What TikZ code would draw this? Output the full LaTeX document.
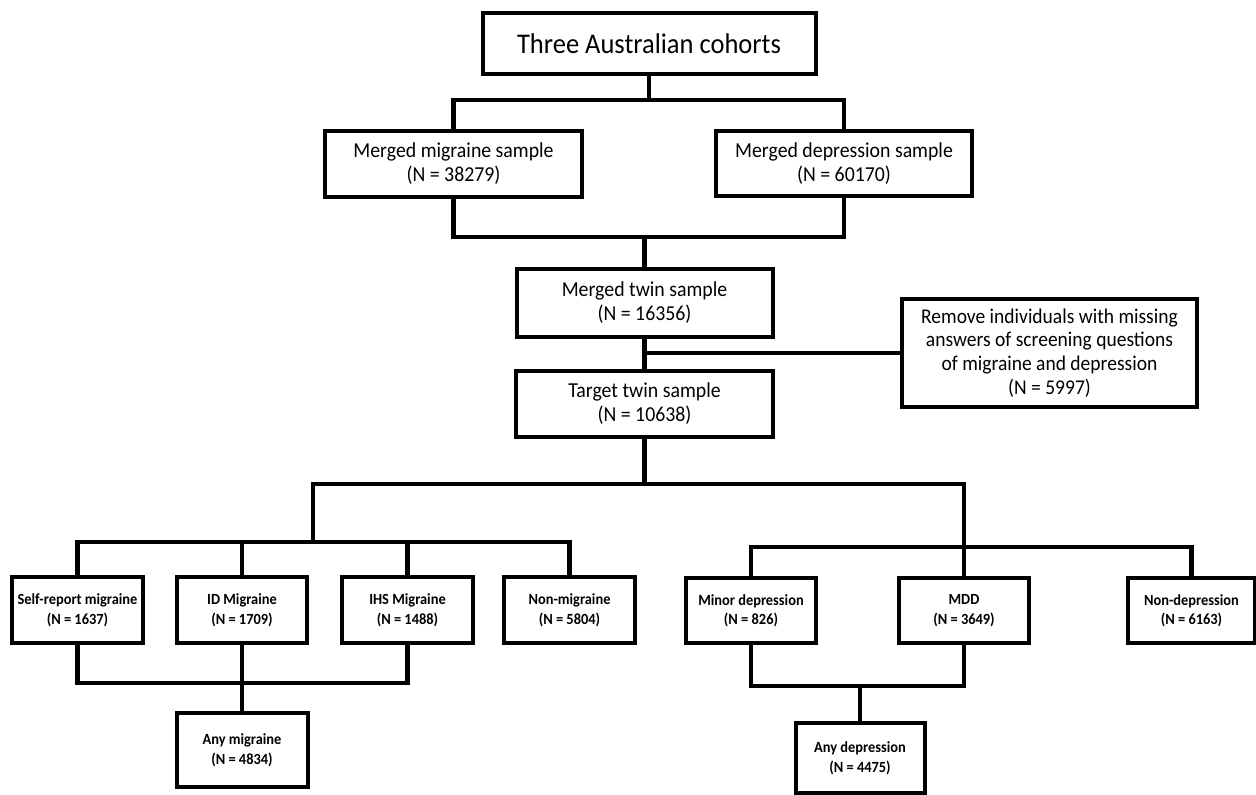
\documentclass[tikz,border=0pt]{standalone}
\usepackage{fontspec}
\setmainfont{Carlito}[FakeStretch=0.93]
\begin{document}
\begin{tikzpicture}[x=1pt,y=-1pt,
  box/.style={draw=black, line width=4pt, align=center, inner sep=0pt, fill=white},
  bigtxt/.style={font=\fontsize{28.5}{33}\selectfont},
  midtxt/.style={font=\fontsize{21.3}{24}\selectfont},
  remtxt/.style={font=\fontsize{21}{23.8}\selectfont},
  smalltxt/.style={font=\bfseries\fontsize{15.5}{19.5}\selectfont},
  link/.style={draw=black, line width=4.5pt, line join=miter}]
\useasboundingbox (0,0) rectangle (1256,795);
\fill[white] (0,0) rectangle (1256,795);

% boxes
\node[box, bigtxt, minimum width=333pt, minimum height=61pt] (top) at (649,43.5) {Three Australian cohorts};
\node[box, midtxt, minimum width=257pt, minimum height=66pt] (mig) at (453.5,164) {Merged migraine sample\\(N = 38279)};
\node[box, midtxt, minimum width=256pt, minimum height=65pt] (dep) at (844,163.5) {Merged depression sample\\(N = 60170)};
\node[box, midtxt, minimum width=256pt, minimum height=68pt] (twin) at (644.5,303) {Merged twin sample\\(N = 16356)};
\node[box, midtxt, minimum width=257pt, minimum height=66pt] (target) at (644.5,404) {Target twin sample\\(N = 10638)};
\node[box, remtxt, minimum width=295pt, minimum height=108pt] (remove) at (1049.5,353) {Remove individuals with missing\\answers of screening questions\\of migraine and depression\\(N = 5997)};

\node[box, smalltxt, minimum width=131pt, minimum height=66pt] (self) at (77.5,610) {Self-report migraine\\(N = 1637)};
\node[box, smalltxt, minimum width=130pt, minimum height=66pt] (id) at (242,610) {ID Migraine\\(N = 1709)};
\node[box, smalltxt, minimum width=131pt, minimum height=66pt] (ihs) at (407.5,610) {IHS Migraine\\(N = 1488)};
\node[box, smalltxt, minimum width=131pt, minimum height=66pt] (nonmig) at (569.5,610) {Non-migraine\\(N = 5804)};
\node[box, smalltxt, minimum width=130pt, minimum height=65pt] (minor) at (751,610.5) {Minor depression\\(N = 826)};
\node[box, smalltxt, minimum width=130pt, minimum height=65pt] (mdd) at (964,610.5) {MDD\\(N = 3649)};
\node[box, smalltxt, minimum width=127pt, minimum height=65pt] (nondep) at (1191.5,610.5) {Non-depression\\(N = 6163)};
\node[box, smalltxt, minimum width=131pt, minimum height=74pt] (anymig) at (242,750) {Any migraine\\(N = 4834)};
\node[box, smalltxt, minimum width=129pt, minimum height=70pt] (anydep) at (860,758) {Any depression\\(N = 4475)};

% junctions
\coordinate (j1) at (649,100);
\coordinate (j2) at (644.5,237);
\coordinate (j3) at (644.5,353);
\coordinate (j4) at (644.5,484);
\coordinate (jl) at (313,542);
\coordinate (jr) at (964,547);
\coordinate (jb1) at (242,683);
\coordinate (jb2) at (860,686);

% connectors
\draw[link] (top.south) -- (j1);
\draw[link] (mig.north) |- (j1) -| (dep.north);
\draw[link] (mig.south) |- (j2) -| (dep.south);
\draw[link] (j2) -- (twin.north);
\draw[link] (twin.south) -- (target.north);
\draw[link] (j3) -- (remove.west);
\draw[link] (target.south) -- (j4);
\draw[link] (jl) |- (j4) -| (mdd.north);
\draw[link] (self.north) |- (jl) -| (nonmig.north);
\draw[link] (id.north) -- (id.north |- jl);
\draw[link] (ihs.north) -- (ihs.north |- jl);
\draw[link] (minor.north) |- (jr) -| (nondep.north);
\draw[link] (self.south) |- (jb1) -| (ihs.south);
\draw[link] (id.south) -- (anymig.north);
\draw[link] (minor.south) |- (jb2) -| (mdd.south);
\draw[link] (jb2) -- (anydep.north);
\end{tikzpicture}
\end{document}
